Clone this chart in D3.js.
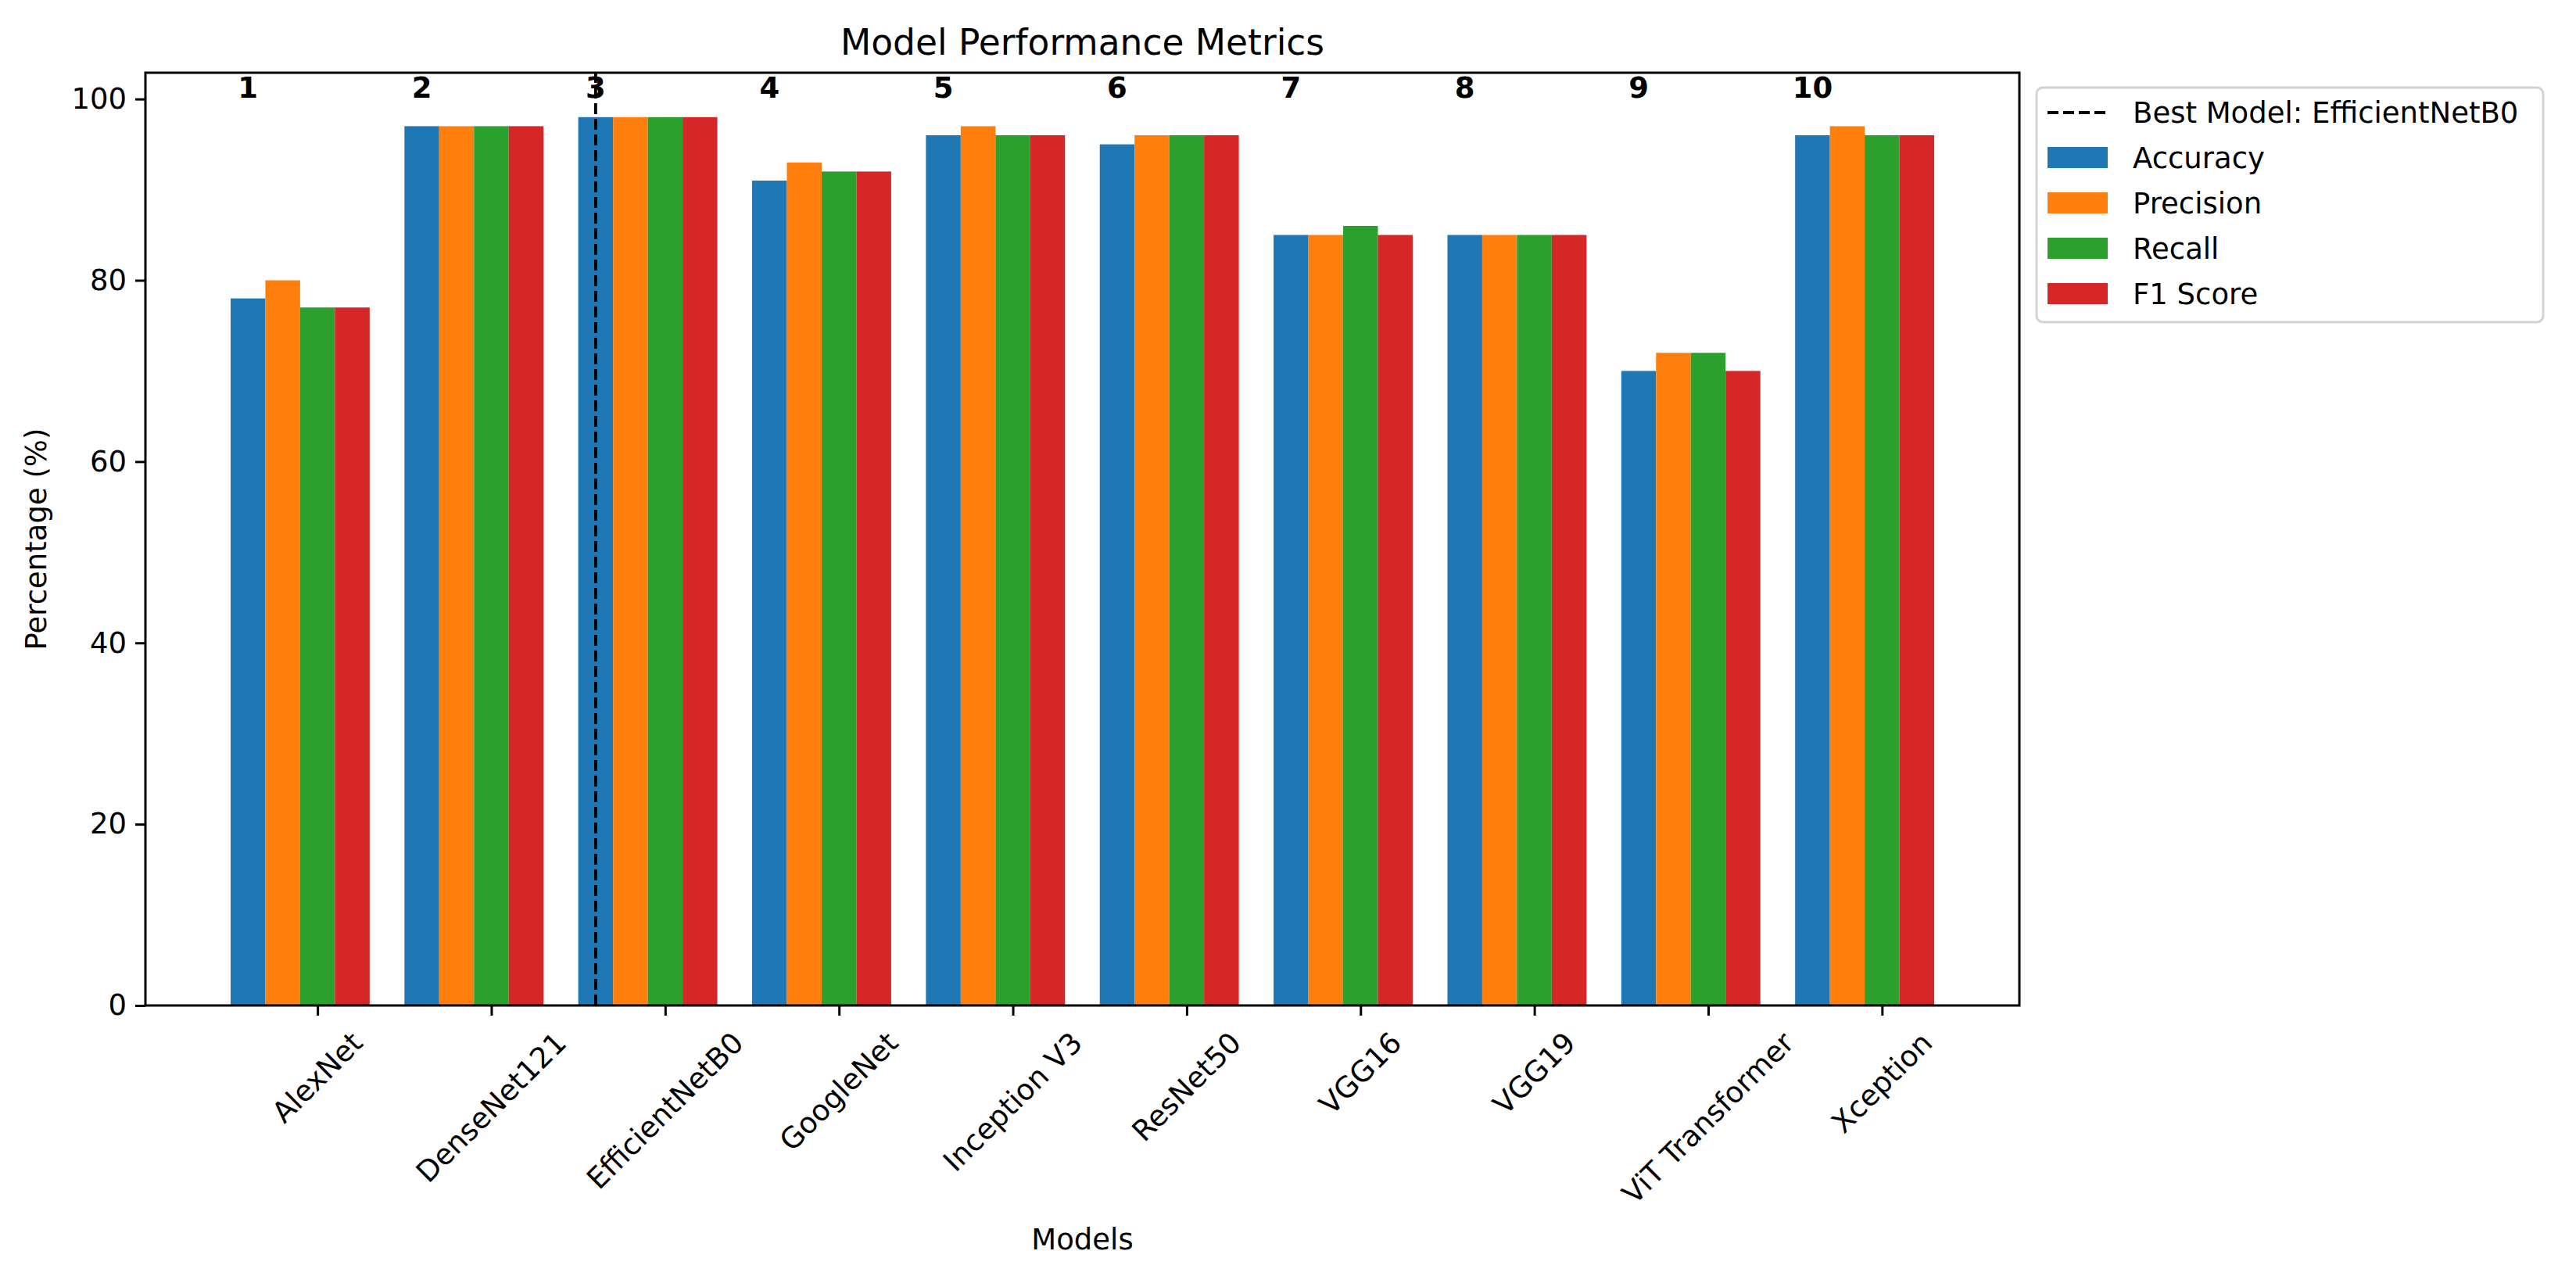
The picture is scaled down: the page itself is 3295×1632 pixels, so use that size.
<!DOCTYPE html>
<html>
<head>
<meta charset="utf-8">
<script src="https://cdn.jsdelivr.net/npm/d3@7"></script>
<style>
  body { margin: 0; background: #fff; }
  svg { display: block; font-family: "DejaVu Sans", sans-serif; }
</style>
</head>
<body>
<div id="chart"></div>
<script>
// chart data
var models = ['AlexNet', 'DenseNet121', 'EfficientNetB0', 'GoogleNet', 'Inception V3',
	'ResNet50', 'VGG16', 'VGG19', 'ViT Transformer', 'Xception'];
var metrics = ['Accuracy', 'Precision', 'Recall', 'F1 Score'];
var accuracy  = [78, 97, 98, 91, 96, 95, 85, 85, 70, 96];
var precision = [80, 97, 98, 93, 97, 96, 85, 85, 72, 97];
var recall    = [77, 97, 98, 92, 96, 96, 86, 85, 72, 96];
var f1score   = [77, 97, 98, 92, 96, 96, 85, 85, 70, 96];
var rankLabels = ['1', '2', '3', '4', '5', '6', '7', '8', '9', '10'];
var yTicks = [0, 20, 40, 60, 80, 100];
var bestModel = 'EfficientNetB0';

var series = [accuracy, precision, recall, f1score];
var colors = ['#1f77b4', '#ff7f0e', '#2ca02c', '#d62728'];

var width = 3295, height = 1632;
var margin = { left: 186, right: 3295 - 2583, top: 93, bottom: 1632 - 1286 };
var fs = 37;          // 10pt
var barWidth = 0.2;

var svg = d3.select('#chart').append('svg')
	.attr('width', width)
	.attr('height', height);

svg.append('rect').attr('width', width).attr('height', height).attr('fill', '#fff');

// x is a linear scale on model index, like matplotlib's np.arange
var xMin = -0.5, xMax = models.length - 1 + 0.3;
var xPad = (xMax - xMin) * 0.05;
var x = d3.scaleLinear()
	.domain([xMin - xPad, xMax + xPad])
	.range([margin.left, width - margin.right]);

var yMax = d3.max(series, function(s) { return d3.max(s); }) * 1.05;
var y = d3.scaleLinear()
	.domain([0, yMax])
	.range([height - margin.bottom, margin.top]);

// bars
series.forEach(function(values, si) {
	svg.append('g').selectAll('rect')
		.data(values)
		.enter()
		.append('rect')
		.attr('x', function(d, i) { return x(i + (si - 2) * barWidth - barWidth / 2); })
		.attr('width', function() { return x(barWidth) - x(0); })
		.attr('y', function(d) { return y(d); })
		.attr('height', function(d) { return y(0) - y(d); })
		.attr('fill', colors[si]);
});

// best model line at its accuracy bar
var bestIdx = models.indexOf(bestModel);
var bestX = x(bestIdx - 2 * barWidth);
svg.append('line')
	.attr('x1', bestX).attr('x2', bestX)
	.attr('y1', y.range()[0]).attr('y2', y.range()[1])
	.attr('stroke', '#000')
	.attr('stroke-width', 3.8)
	.attr('stroke-dasharray', '14,6');

// rank numbers
svg.append('g').selectAll('text')
	.data(rankLabels)
	.enter()
	.append('text')
	.attr('x', function(d, i) { return x(i - 2 * barWidth); })
	.attr('y', y(100) - 2)
	.attr('text-anchor', 'middle')
	.attr('font-weight', 'bold')
	.attr('font-size', fs)
	.text(function(d) { return d; });

// y axis
var yAxis = d3.axisLeft(y)
	.tickValues(yTicks)
	.tickSize(13)
	.tickPadding(11);
var gy = svg.append('g')
	.attr('transform', 'translate(' + margin.left + ',0)')
	.call(yAxis);
gy.select('.domain').remove();
gy.selectAll('line').attr('stroke-width', 3);
gy.selectAll('text').attr('font-size', fs).attr('font-family', 'DejaVu Sans').attr('fill', '#000');

// x axis
var xAxis = d3.axisBottom(x)
	.tickValues(d3.range(models.length))
	.tickSize(13)
	.tickFormat('');
var gx = svg.append('g')
	.attr('transform', 'translate(0,' + y(0) + ')')
	.call(xAxis);
gx.select('.domain').remove();
gx.selectAll('line').attr('stroke-width', 3);

// rotated tick labels, bbox centred under the tick (matplotlib rotation=45)
var labelTop = y(0) + 13 + 13;
var lineH = fs * 1.164;
svg.append('g').selectAll('text')
	.data(models)
	.enter()
	.append('text')
	.attr('font-size', fs)
	.attr('text-anchor', 'middle')
	.attr('dominant-baseline', 'central')
	.text(function(d) { return d; })
	.each(function(d, i) {
		var len = this.getComputedTextLength();
		var half = (len + lineH) * Math.SQRT1_2 / 2;
		var cx = x(i), cy = labelTop + half;
		d3.select(this)
			.attr('x', cx).attr('y', cy)
			.attr('transform', 'rotate(-45,' + cx + ',' + cy + ')');
	});

// frame
svg.append('rect')
	.attr('x', margin.left)
	.attr('y', margin.top)
	.attr('width', width - margin.right - margin.left)
	.attr('height', height - margin.bottom - margin.top)
	.attr('fill', 'none')
	.attr('stroke', '#000')
	.attr('stroke-width', 3);

// titles
svg.append('text')
	.attr('x', (margin.left + width - margin.right) / 2)
	.attr('y', margin.top - 23)
	.attr('text-anchor', 'middle')
	.attr('font-size', 45.5)
	.text('Model Performance Metrics');

svg.append('text')
	.attr('x', (margin.left + width - margin.right) / 2)
	.attr('y', 1598)
	.attr('text-anchor', 'middle')
	.attr('font-size', fs)
	.text('Models');

svg.append('text')
	.attr('transform', 'translate(59,' + (margin.top + height - margin.bottom) / 2 + ') rotate(-90)')
	.attr('text-anchor', 'middle')
	.attr('font-size', fs)
	.text('Percentage (%)');

// legend
var legend = svg.append('g').attr('transform', 'translate(2605,112)');
legend.append('rect')
	.attr('width', 648)
	.attr('height', 300)
	.attr('rx', 8)
	.attr('fill', '#fff')
	.attr('stroke', '#d3d3d3')
	.attr('stroke-width', 3);

var rowY = function(i) { return 32 + i * 58; };
legend.append('line')
	.attr('x1', 14).attr('x2', 91)
	.attr('y1', rowY(0)).attr('y2', rowY(0))
	.attr('stroke', '#000')
	.attr('stroke-width', 3.8)
	.attr('stroke-dasharray', '14,6');
legend.append('text')
	.attr('x', 123).attr('y', rowY(0))
	.attr('dominant-baseline', 'central')
	.attr('font-size', fs)
	.text('Best Model: ' + bestModel);

metrics.forEach(function(m, i) {
	legend.append('rect')
		.attr('x', 14).attr('y', rowY(i + 1) - 14)
		.attr('width', 77).attr('height', 27)
		.attr('fill', colors[i]);
	legend.append('text')
		.attr('x', 123).attr('y', rowY(i + 1))
		.attr('dominant-baseline', 'central')
		.attr('font-size', fs)
		.text(m);
});
</script>
</body>
</html>
